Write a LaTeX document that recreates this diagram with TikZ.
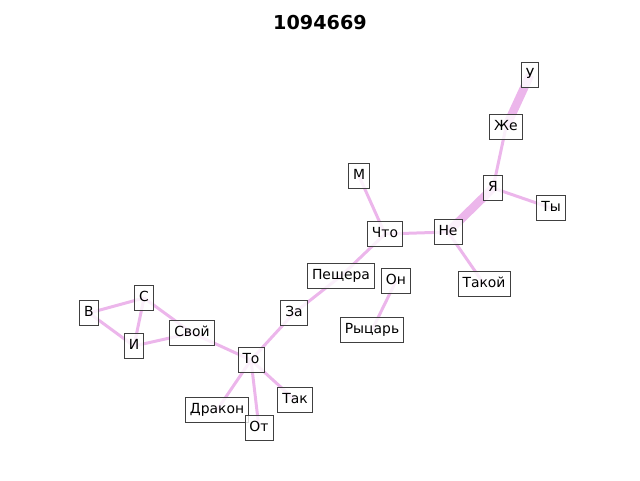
\documentclass[tikz,border=0pt]{standalone}
\usepackage{fontspec}
\setmainfont{DejaVu Sans}
\definecolor{linkcol}{RGB}{236,182,235}
\begin{document}
\begin{tikzpicture}[x=1pt,y=-1pt,
    word/.style ={draw=black!75, line width=0.9pt, fill=white, fill opacity=0.8, text opacity=1,
      inner xsep=4.5pt, inner ysep=6pt, text height=10.5pt, text depth=3pt,
      font=\fontsize{13.9}{16}\selectfont},
    link/.style ={linkcol, line width=3pt},
    heavy/.style ={linkcol, line width=8.5pt}]
   \useasboundingbox (0,0) rectangle (640,480);
   \node[font=\fontsize{19.2}{22}\selectfont\bfseries] (title) at (320,23) {1094669};
   % words
   \coordinate (u) at (530,75);
   \coordinate (zhe) at (506,127);
   \coordinate (ya) at (493,188);
   \coordinate (ty) at (551,208);
   \coordinate (ne) at (448,232);
   \coordinate (takoy) at (484,284);
   \coordinate (chto) at (385,234);
   \coordinate (m) at (359,176);
   \coordinate (peshchera) at (341,276);
   \coordinate (on) at (396,281);
   \coordinate (rytsar) at (372,330);
   \coordinate (za) at (294,313);
   \coordinate (svoy) at (192,333);
   \coordinate (to) at (251,360);
   \coordinate (s) at (144,298);
   \coordinate (v) at (89,313);
   \coordinate (i) at (134,346);
   \coordinate (drakon) at (217,410);
   \coordinate (tak) at (295,400);
   \coordinate (ot) at (259,428);
   % edges
   \draw[heavy] (u) -- (zhe);
   \draw[heavy] (ya) -- (ne);
   \draw[link] (zhe) -- (ya);
   \draw[link] (ya) -- (ty);
   \draw[link] (ne) -- (chto);
   \draw[link] (ne) -- (takoy);
   \draw[link] (chto) -- (m);
   \draw[link] (chto) -- (peshchera);
   \draw[link] (peshchera) -- (za);
   \draw[link] (za) -- (to);
   \draw[link] (to) -- (svoy);
   \draw[link] (to) -- (tak);
   \draw[link] (to) -- (drakon);
   \draw[link] (to) -- (ot);
   \draw[link] (svoy) -- (s);
   \draw[link] (svoy) -- (i);
   \draw[link] (s) -- (v);
   \draw[link] (s) -- (i);
   \draw[link] (v) -- (i);
   \draw[link] (on) -- (rytsar);
   % labels
   \node[word] (U) at (u) {У};
   \node[word] (Zhe) at (zhe) {Же};
   \node[word] (Ya) at (ya) {Я};
   \node[word] (Ty) at (ty) {Ты};
   \node[word] (Ne) at (ne) {Не};
   \node[word] (Takoy) at (takoy) {Такой};
   \node[word] (Chto) at (chto) {Что};
   \node[word] (M) at (m) {М};
   \node[word] (Peshchera) at (peshchera) {Пещера};
   \node[word] (On) at (on) {Он};
   \node[word] (Rytsar) at (rytsar) {Рыцарь};
   \node[word] (Za) at (za) {За};
   \node[word] (Svoy) at (svoy) {Свой};
   \node[word] (To) at (to) {То};
   \node[word] (S) at (s) {С};
   \node[word] (V) at (v) {В};
   \node[word] (I) at (i) {И};
   \node[word] (Drakon) at (drakon) {Дракон};
   \node[word] (Tak) at (tak) {Так};
   \node[word] (Ot) at (ot) {От};
\end{tikzpicture}
\end{document}
